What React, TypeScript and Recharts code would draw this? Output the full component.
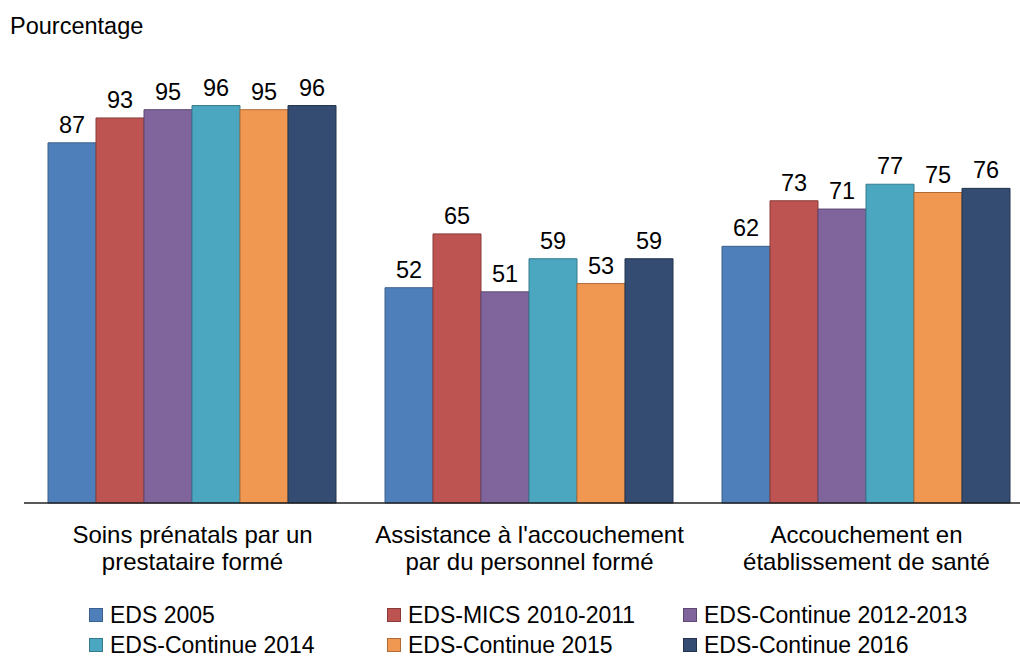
import { Bar, BarChart, LabelList, XAxis, YAxis } from "recharts";

const categories = [
  "Soins prénatals par un\nprestataire formé",
  "Assistance à l'accouchement\npar du personnel formé",
  "Accouchement en\nétablissement de santé",
];

const series = [
  { key: "eds2005", name: "EDS 2005", color: "#4F7FBA", stroke: "#3C5F8C" },
  { key: "mics2010", name: "EDS-MICS 2010-2011", color: "#BE5451", stroke: "#8A3A38" },
  { key: "cont2012", name: "EDS-Continue 2012-2013", color: "#7F659B", stroke: "#5C4872" },
  { key: "cont2014", name: "EDS-Continue 2014", color: "#4BA7C0", stroke: "#357A8C" },
  { key: "cont2015", name: "EDS-Continue 2015", color: "#F09852", stroke: "#B06A35" },
  { key: "cont2016", name: "EDS-Continue 2016", color: "#344C71", stroke: "#22324C" },
];

const eds2005 = [87, 52, 62];
const mics2010 = [93, 65, 73];
const cont2012 = [95, 51, 71];
const cont2014 = [96, 59, 77];
const cont2015 = [95, 53, 75];
const cont2016 = [96, 59, 76];

const values: Record<string, number[]> = { eds2005, mics2010, cont2012, cont2014, cont2015, cont2016 };

const data = categories.map((name, i) => {
  const row: Record<string, string | number> = { name };
  series.forEach((s) => (row[s.key] = values[s.key][i]));
  return row;
});

const FONT = "'Liberation Sans', Arial, sans-serif";

function CategoryTick(props: any) {
  const { x, y, payload } = props;
  const lines = String(payload.value).split("\n");
  return (
    <g>
      {lines.map((line, i) => (
        <text
          key={i}
          x={x}
          y={y + 32 + i * 27}
          textAnchor="middle"
          fontSize={24}
          fontFamily={FONT}
          fill="#000"
        >
          {line}
        </text>
      ))}
    </g>
  );
}

export default function App() {
  return (
    <div
      style={{
        position: "absolute",
        left: 0,
        top: 0,
        width: 1020,
        height: 659,
        overflow: "hidden",
        background: "#fff",
        fontFamily: FONT,
      }}
    >
      <div style={{ position: "absolute", left: 10, top: 13, fontSize: 23.5, color: "#000" }}>Pourcentage</div>
      <BarChart
        width={1036}
        height={659}
        data={data}
        margin={{ top: 89, right: 1, bottom: 0, left: 24 }}
        barCategoryGap={24}
        barGap={0}
      >
        <XAxis
          dataKey="name"
          axisLine={{ stroke: "#222", strokeWidth: 1.5 }}
          tickLine={false}
          height={156}
          interval={0}
          tick={<CategoryTick />}
        />
        <YAxis hide domain={[0, 100]} />
        {series.map((s) => (
          <Bar key={s.key} dataKey={s.key} fill={s.color} stroke={s.stroke} strokeWidth={1} isAnimationActive={false}>
            <LabelList dataKey={s.key} position="top" offset={10} fontSize={23.5} fontFamily={FONT} fill="#000" />
          </Bar>
        ))}
      </BarChart>
      {series.map((s, i) => {
        const col = i % 3;
        const row = Math.floor(i / 3);
        return (
          <div
            key={s.key}
            style={{
              position: "absolute",
              left: [89, 387, 683][col],
              top: 605 + row * 30,
              height: 20,
              lineHeight: "20px",
              display: "flex",
              alignItems: "center",
              fontSize: 23,
              color: "#000",
              whiteSpace: "nowrap",
            }}
          >
            <span
              style={{
                display: "inline-block",
                width: 12,
                height: 12,
                background: s.color,
                border: `1px solid ${s.stroke}`,
                marginRight: 7,
              }}
            />
            {s.name}
          </div>
        );
      })}
    </div>
  );
}
